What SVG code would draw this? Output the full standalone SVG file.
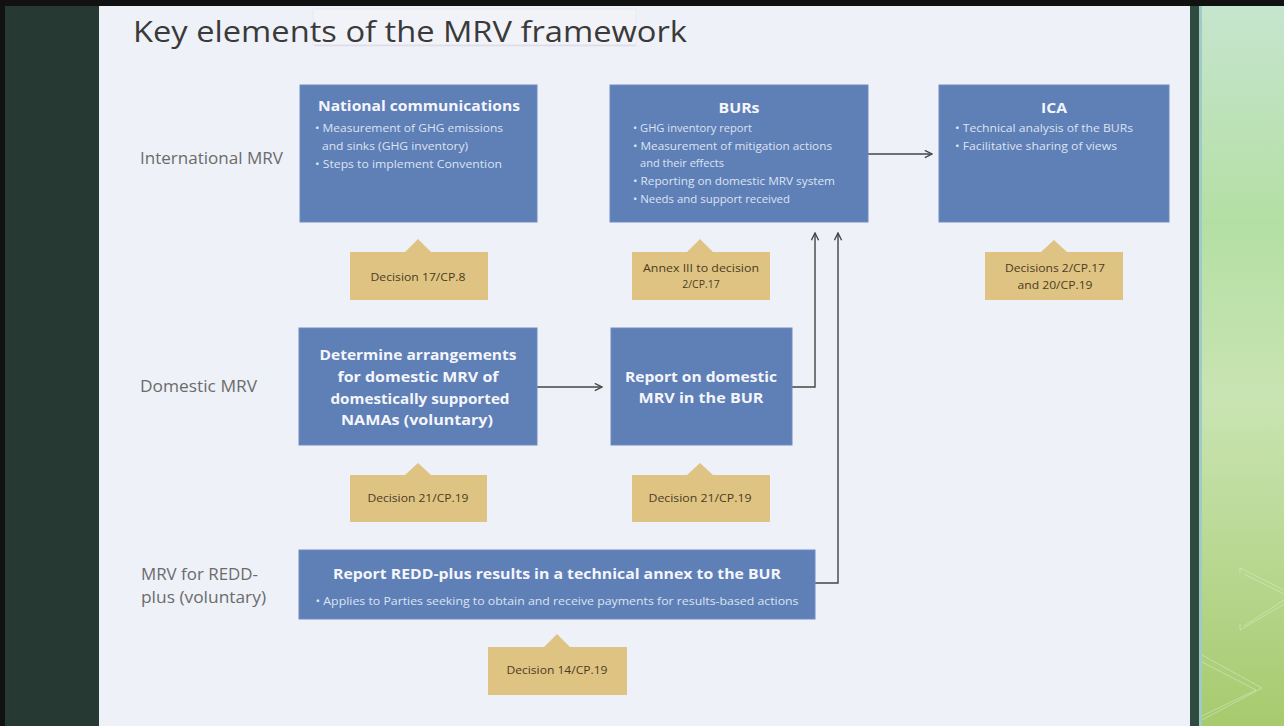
<svg xmlns="http://www.w3.org/2000/svg" width="1284" height="726" viewBox="0 0 1284 726">
<defs>
<linearGradient id="green" x1="0" y1="0" x2="0" y2="1">
<stop offset="0" stop-color="#C6E5CE"/>
<stop offset="0.3" stop-color="#B4DFA4"/>
<stop offset="0.55" stop-color="#C9E4B2"/>
<stop offset="1" stop-color="#A7CA6E"/>
</linearGradient>
<marker id="arr" viewBox="0 0 10 10" refX="9" refY="5" markerWidth="9" markerHeight="9" markerUnits="userSpaceOnUse" orient="auto">
<path d="M1,1 L9,5 L1,9" fill="none" stroke="#444" stroke-width="1.5"/>
</marker>
<style>
.box{fill:#5F7FB7;stroke:#6E8CC0;stroke-width:1}
.tag{fill:#DFC383}
.bt{font-family:"Open Sans","Liberation Sans",sans-serif;font-weight:bold;fill:#F4F6FB;text-anchor:middle}
.bl{font-family:"Open Sans","Liberation Sans",sans-serif;font-size:11px;fill:#DCE4F2}
.tt{font-family:"Open Sans","Liberation Sans",sans-serif;font-size:10.5px;fill:#4B3B1E;text-anchor:middle}
.lab{font-family:"Open Sans","Liberation Sans",sans-serif;font-size:15.5px;fill:#6B6B6B}
.con{fill:none;stroke:#444;stroke-width:1.4}
</style>
</defs>
<rect x="0" y="0" width="1284" height="726" fill="#111"/>
<rect x="5" y="6" width="94" height="720" fill="#263A33"/>
<rect x="99" y="6" width="1091" height="720" fill="#EEF1F8"/>
<rect x="1190" y="6" width="9" height="720" fill="#2F4A3F"/>
<rect x="1199" y="6" width="3" height="720" fill="#9FCAC6"/>
<rect x="1202" y="6" width="82" height="720" fill="url(#green)"/>
<g fill="none" stroke="#E6F2D6" stroke-opacity="0.45" stroke-width="1">
<path d="M1240,568 L1284,590 M1244,574 L1284,594 M1240,630 L1284,604 M1244,626 L1284,600 M1240,568 L1240,574 M1240,630 L1240,624"/>
<path d="M1202,655 L1262,688 L1202,720 M1202,662 L1256,690 L1202,716"/>
</g>
<rect x="313" y="9" width="323" height="36" fill="#F2F3F8" stroke="#E3E5EC" stroke-opacity="0.6" stroke-width="1"/>
<line x1="314" y1="45.5" x2="636" y2="45.5" stroke="#DCDDE5" stroke-width="1.5"/>
<text x="133" y="42" font-family="'Open Sans','Liberation Sans',sans-serif" font-size="30" fill="#3A3A3A" textLength="554" lengthAdjust="spacingAndGlyphs">Key elements of the MRV framework</text>
<g id="labels">
<text class="lab" x="140" y="164" textLength="143" lengthAdjust="spacingAndGlyphs">International MRV</text>
<text class="lab" x="140" y="392" textLength="117" lengthAdjust="spacingAndGlyphs">Domestic MRV</text>
<text class="lab" x="141" y="580" textLength="117" lengthAdjust="spacingAndGlyphs">MRV for REDD-</text>
<text class="lab" x="141" y="603" textLength="125" lengthAdjust="spacingAndGlyphs">plus (voluntary)</text>
</g>
<g id="connectors">
<line class="con" x1="868" y1="154" x2="932" y2="154" marker-end="url(#arr)"/>
<line class="con" x1="537" y1="387" x2="602" y2="387" marker-end="url(#arr)"/>
<polyline class="con" points="792,387 815,387 815,233" marker-end="url(#arr)"/>
<polyline class="con" points="815,583 838,583 838,233" marker-end="url(#arr)"/>
</g>
<g id="natcom">
<rect class="box" x="300" y="85" width="237" height="137"/>
<text class="bt" x="419" y="111" font-size="15" textLength="202" lengthAdjust="spacingAndGlyphs">National communications</text>
<text class="bl" x="315" y="132" textLength="188" lengthAdjust="spacingAndGlyphs">• Measurement of GHG emissions</text>
<text class="bl" x="322" y="150" textLength="146" lengthAdjust="spacingAndGlyphs">and sinks (GHG inventory)</text>
<text class="bl" x="315" y="168" textLength="187" lengthAdjust="spacingAndGlyphs">• Steps to implement Convention</text>
</g>
<g id="burs">
<rect class="box" x="610" y="85" width="258" height="137"/>
<text class="bt" x="739" y="113" font-size="15" textLength="41" lengthAdjust="spacingAndGlyphs">BURs</text>
<text class="bl" x="633" y="132" textLength="119" lengthAdjust="spacingAndGlyphs">• GHG inventory report</text>
<text class="bl" x="633" y="150" textLength="199" lengthAdjust="spacingAndGlyphs">• Measurement of mitigation actions</text>
<text class="bl" x="640" y="167" textLength="84" lengthAdjust="spacingAndGlyphs">and their effects</text>
<text class="bl" x="633" y="185" textLength="202" lengthAdjust="spacingAndGlyphs">• Reporting on domestic MRV system</text>
<text class="bl" x="633" y="203" textLength="157" lengthAdjust="spacingAndGlyphs">• Needs and support received</text>
</g>
<g id="ica">
<rect class="box" x="939" y="85" width="230" height="137"/>
<text class="bt" x="1054" y="113" font-size="15" textLength="26" lengthAdjust="spacingAndGlyphs">ICA</text>
<text class="bl" x="955" y="132" textLength="178" lengthAdjust="spacingAndGlyphs">• Technical analysis of the BURs</text>
<text class="bl" x="955" y="150" textLength="162" lengthAdjust="spacingAndGlyphs">• Facilitative sharing of views</text>
</g>
<g id="domestic-arrangements">
<rect class="box" x="299" y="328" width="238" height="117"/>
<text class="bt" x="418" y="360" font-size="15" textLength="197" lengthAdjust="spacingAndGlyphs">Determine arrangements</text>
<text class="bt" x="418" y="382" font-size="15" textLength="161" lengthAdjust="spacingAndGlyphs">for domestic MRV of</text>
<text class="bt" x="420" y="404" font-size="15" textLength="179" lengthAdjust="spacingAndGlyphs">domestically supported</text>
<text class="bt" x="417" y="425" font-size="15" textLength="152" lengthAdjust="spacingAndGlyphs">NAMAs (voluntary)</text>
</g>
<g id="report-domestic">
<rect class="box" x="611" y="328" width="181" height="117"/>
<text class="bt" x="701" y="382" font-size="15" textLength="152" lengthAdjust="spacingAndGlyphs">Report on domestic</text>
<text class="bt" x="701" y="403" font-size="15" textLength="125" lengthAdjust="spacingAndGlyphs">MRV in the BUR</text>
</g>
<g id="redd">
<rect class="box" x="299" y="550" width="516" height="69"/>
<text class="bt" x="557" y="579" font-size="15" textLength="448" lengthAdjust="spacingAndGlyphs">Report REDD-plus results in a technical annex to the BUR</text>
<text class="bl" x="557" y="605" text-anchor="middle" font-size="10" textLength="483" lengthAdjust="spacingAndGlyphs">• Applies to Parties seeking to obtain and receive payments for results-based actions</text>
</g>
<g id="tag-natcom">
<path class="tag" d="M350,252 L405,252 L418,239 L431,252 L488,252 L488,300 L350,300 Z"/>
<text class="tt" x="418" y="281" textLength="95" lengthAdjust="spacingAndGlyphs">Decision 17/CP.8</text>
</g>
<g id="tag-burs">
<path class="tag" d="M632,252 L687,252 L700,239 L713,252 L770,252 L770,300 L632,300 Z"/>
<text class="tt" x="701" y="272" textLength="116" lengthAdjust="spacingAndGlyphs">Annex III to decision</text>
<text class="tt" x="701" y="288">2/CP.17</text>
</g>
<g id="tag-ica">
<path class="tag" d="M985,252 L1041,252 L1054,240 L1067,252 L1123,252 L1123,300 L985,300 Z"/>
<text class="tt" x="1055" y="272" textLength="100" lengthAdjust="spacingAndGlyphs">Decisions 2/CP.17</text>
<text class="tt" x="1055" y="289" textLength="75" lengthAdjust="spacingAndGlyphs">and 20/CP.19</text>
</g>
<g id="tag-domestic1">
<path class="tag" d="M350,475 L405,475 L418,463 L431,475 L487,475 L487,522 L350,522 Z"/>
<text class="tt" x="418" y="502" textLength="101" lengthAdjust="spacingAndGlyphs">Decision 21/CP.19</text>
</g>
<g id="tag-domestic2">
<path class="tag" d="M632,475 L687,475 L700,463 L713,475 L770,475 L770,522 L632,522 Z"/>
<text class="tt" x="700" y="502" textLength="103" lengthAdjust="spacingAndGlyphs">Decision 21/CP.19</text>
</g>
<g id="tag-redd">
<path class="tag" d="M488,647 L544,647 L557,634 L570,647 L627,647 L627,695 L488,695 Z"/>
<text class="tt" x="557" y="674" textLength="101" lengthAdjust="spacingAndGlyphs">Decision 14/CP.19</text>
</g>
</svg>
